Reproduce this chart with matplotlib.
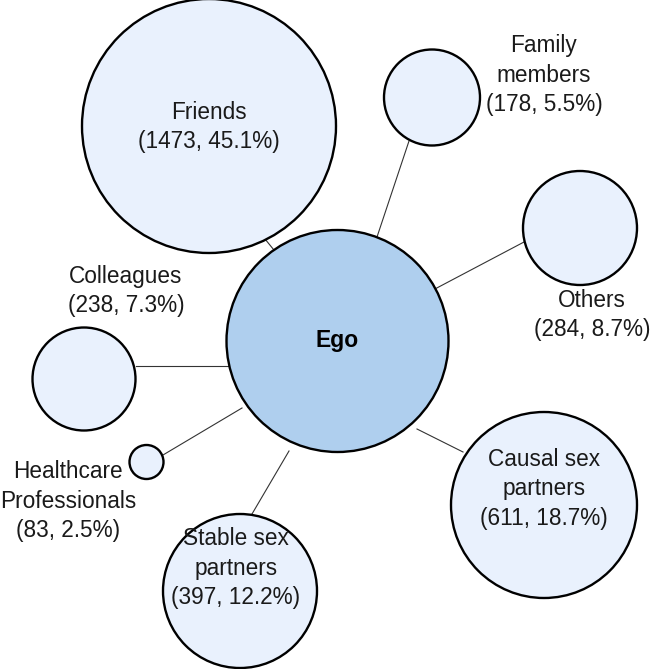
import matplotlib.pyplot as plt
from matplotlib.patches import Circle

plt.rcParams['font.family'] = ['Liberation Sans', 'DejaVu Sans']

# data
categories = ["Friends", "Family\nmembers", "Others", "Causal sex\npartners",
              "Stable sex\npartners", "Healthcare\nProfessionals", "Colleagues"]
counts = [1473, 178, 284, 611, 397, 83, 238]
percents = [45.1, 5.5, 8.7, 18.7, 12.2, 2.5, 7.3]

# layout (pixel space, y down)
ego_pos = (337.5, 341)
ego_r = 111
node_pos = [(209, 126), (432, 97.5), (580, 228), (544, 505),
            (240, 591), (146.5, 462), (84, 379)]
node_r = [127, 48, 57, 93, 77, 17, 51.5]
label_pos = [(209, 127), (544, 75), (592, 315), (544, 489),
             (236, 568), (68, 501), (126, 291)]
link_ends = [((265, 239), (278, 255)), ((409, 141), (375, 243)),
             ((524, 242), (433, 290)), ((463, 452), (417, 429)),
             ((252, 514), (289, 451)), ((163, 455), (242, 408)),
             ((136, 366), (229, 366))]

fig = plt.figure(figsize=(6.51, 6.69), dpi=100)
ax = fig.add_axes([0, 0, 1, 1])
ax.set_xlim(0, 651)
ax.set_ylim(669, 0)
ax.set_aspect('equal')
ax.axis('off')

for (a, b) in link_ends:
    ax.plot([a[0], b[0]], [a[1], b[1]], color='#333333', lw=0.8, zorder=1)

for pos, r in zip(node_pos, node_r):
    ax.add_patch(Circle(pos, r, facecolor='#e9f1fd', edgecolor='black', lw=1.7, zorder=2))

ax.add_patch(Circle(ego_pos, ego_r, facecolor='#afcfee', edgecolor='black', lw=1.7, zorder=2))
ax.text(ego_pos[0], ego_pos[1], "Ego", fontsize=16.5, fontweight='bold',
        ha='center', va='center', zorder=3)

for cat, n, p, lp in zip(categories, counts, percents, label_pos):
    ax.text(lp[0], lp[1], f"{cat}\n({n}, {p}%)", fontsize=16.3, ha='center', va='center',
            linespacing=1.38, color='#1a1a1a', zorder=3)

fig.savefig("out.png", dpi=100)
